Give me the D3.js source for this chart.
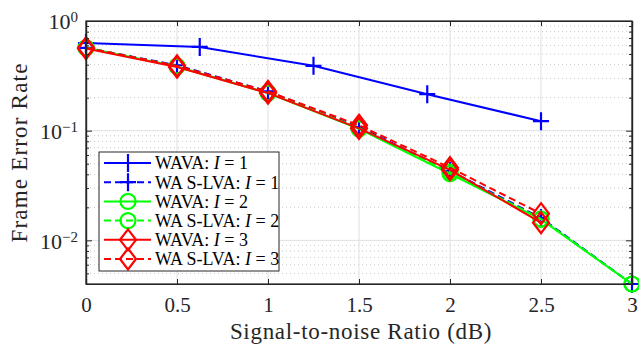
<!DOCTYPE html>
<html>
<head>
<meta charset="utf-8">
<script src="https://cdn.jsdelivr.net/npm/d3@7"></script>
<style>
  body { margin: 0; background: #fff; }
</style>
</head>
<body>
<svg id="chart" width="639" height="347"></svg>
<script>
// data
const snrFull = [0, 0.5, 1, 1.5, 2, 2.5, 3];
const snrShort = [0, 0.5, 1, 1.5, 2, 2.5];
const snrWava1 = [0, 0.625, 1.25, 1.875, 2.5];

const ferWava1 = [0.63, 0.58, 0.39, 0.215, 0.122];
const ferSlva1 = [0.57, 0.395, 0.228, 0.108, 0.043, 0.0160, 0.0040];
const ferWava2 = [0.57, 0.385, 0.220, 0.104, 0.0405, 0.0155, 0.0040];
const ferSlva2 = [0.57, 0.388, 0.223, 0.106, 0.0420, 0.0157, 0.0040];
const ferWava3 = [0.56, 0.380, 0.220, 0.105, 0.0440, 0.0145];
const ferSlva3 = [0.57, 0.390, 0.228, 0.112, 0.0460, 0.0175];

const xTicks = [0, 0.5, 1, 1.5, 2, 2.5, 3];
const yTicks = [1e-2, 1e-1, 1];
const yTickExp = ["\u22122", "\u22121", "0"];

const series = [
  { name: "WAVA: ", idx: "1", x: snrWava1, y: ferWava1, color: "#0000ff", dash: null, marker: "plus" },
  { name: "WA S-LVA: ", idx: "1", x: snrFull, y: ferSlva1, color: "#0000ff", dash: "7,4", marker: "plus" },
  { name: "WAVA: ", idx: "2", x: snrFull, y: ferWava2, color: "#00ff00", dash: null, marker: "circle" },
  { name: "WA S-LVA: ", idx: "2", x: snrFull, y: ferSlva2, color: "#00ff00", dash: "7,4", marker: "circle" },
  { name: "WAVA: ", idx: "3", x: snrShort, y: ferWava3, color: "#ff0000", dash: null, marker: "diamond" },
  { name: "WA S-LVA: ", idx: "3", x: snrShort, y: ferSlva3, color: "#ff0000", dash: "7,4", marker: "diamond" }
];

const FONT = "'Liberation Serif', 'Times New Roman', serif";
const mLeft = 86, mRight = 632, mTop = 21, mBottom = 284;
const svg = d3.select("#chart");

const x = d3.scaleLinear().domain([0, 3]).range([mLeft, mRight]);
const y = d3.scaleLog().domain([0.004, 1]).range([mBottom, mTop]);

// minor y values (2..9 per decade)
const yMinor = [];
[1e-3, 1e-2, 1e-1].forEach(d => {
  for (let k = 2; k <= 9; k++) {
    const v = d * k;
    if (v >= 0.004 && v < 1) yMinor.push(v);
  }
});

// grid
const grid = svg.append("g");
grid.selectAll(".ymin").data(yMinor).enter().append("line")
  .attr("x1", mLeft).attr("x2", mRight)
  .attr("y1", d => y(d)).attr("y2", d => y(d))
  .attr("stroke", "#c8c8c8").attr("stroke-width", 1)
  .attr("stroke-dasharray", "1,3");
grid.selectAll(".xmaj").data(xTicks).enter().append("line")
  .attr("x1", d => x(d)).attr("x2", d => x(d))
  .attr("y1", mTop).attr("y2", mBottom)
  .attr("stroke", "#e0e0e0").attr("stroke-width", 1);
grid.selectAll(".ymaj").data(yTicks).enter().append("line")
  .attr("x1", mLeft).attr("x2", mRight)
  .attr("y1", d => y(d)).attr("y2", d => y(d))
  .attr("stroke", "#e0e0e0").attr("stroke-width", 1);

// markers
function drawMarker(g, type, color) {
  if (type === "plus") {
    g.append("path").attr("d", "M-8,0H8M0,-9V9")
      .attr("stroke", color).attr("stroke-width", 2.2).attr("fill", "none");
  } else if (type === "circle") {
    g.append("circle").attr("r", 7.5)
      .attr("stroke", color).attr("stroke-width", 2.2).attr("fill", "none");
  } else {
    g.append("path").attr("d", "M0,-10.5L8,0L0,10.5L-8,0Z")
      .attr("stroke", color).attr("stroke-width", 2.2).attr("fill", "none");
  }
}

const line = d3.line().x(d => x(d[0])).y(d => y(d[1]));
const plot = svg.append("g");
series.forEach(s => {
  const pts = s.x.map((v, i) => [v, s.y[i]]);
  plot.append("path")
    .attr("d", line(pts))
    .attr("fill", "none")
    .attr("stroke", s.color)
    .attr("stroke-width", 2)
    .attr("stroke-dasharray", s.dash);
  pts.forEach(p => {
    const g = plot.append("g").attr("transform", `translate(${x(p[0])},${y(p[1])})`);
    drawMarker(g, s.marker, s.color);
  });
});

// axes with inward ticks, box
const axisColor = "#262626";
svg.append("g").attr("transform", `translate(0,${mBottom})`)
  .call(d3.axisBottom(x).tickValues(xTicks).tickSize(-5).tickPadding(13).tickFormat(d3.format("")))
  .call(g => g.selectAll("text").attr("font-size", 21).attr("dy", "0.71em"));
svg.append("g").attr("transform", `translate(0,${mTop})`)
  .call(d3.axisTop(x).tickValues(xTicks).tickSize(-5).tickFormat(""));
const yAx = svg.append("g").attr("transform", `translate(${mLeft},0)`)
  .call(d3.axisLeft(y).tickValues(yTicks).tickSize(-6).tickPadding(12).tickFormat(""));
svg.append("g").attr("transform", `translate(${mRight},0)`)
  .call(d3.axisRight(y).tickValues(yTicks).tickSize(-6).tickFormat(""));
// minor ticks
svg.append("g").attr("transform", `translate(${mLeft},0)`)
  .call(d3.axisLeft(y).tickValues(yMinor).tickSize(-3).tickFormat("").tickSizeOuter(0));
svg.append("g").attr("transform", `translate(${mRight},0)`)
  .call(d3.axisRight(y).tickValues(yMinor).tickSize(-3).tickFormat("").tickSizeOuter(0));

svg.selectAll(".domain").attr("stroke", axisColor).attr("stroke-width", 1.2);
svg.selectAll(".tick line").attr("stroke", axisColor);
svg.append("rect").attr("x", mLeft).attr("y", mTop).attr("width", mRight - mLeft).attr("height", mBottom - mTop)
  .attr("fill", "none").attr("stroke", axisColor).attr("stroke-width", 1.2);

// y tick labels 10^k
yAx.selectAll(".tick").each(function(d, i) {
  const t = d3.select(this).append("text")
    .attr("x", -8).attr("y", 0).attr("dy", "0.35em")
    .attr("text-anchor", "end").attr("font-size", 22).attr("fill", axisColor);
  t.append("tspan").text("10");
  t.append("tspan").attr("dy", "-0.45em").attr("font-size", 15).text(yTickExp[i]);
});

// axis labels
svg.append("text").attr("x", (mLeft + mRight) / 2 + 2).attr("y", 339)
  .attr("text-anchor", "middle").attr("font-size", 23).attr("letter-spacing", 0.7)
  .text("Signal-to-noise Ratio (dB)");
svg.append("text").attr("transform", `translate(27,${(mTop + mBottom) / 2}) rotate(-90)`)
  .attr("text-anchor", "middle").attr("font-size", 23).attr("letter-spacing", 1.2)
  .text("Frame Error Rate");

// legend
const lg = svg.append("g").attr("transform", "translate(99,152)");
lg.append("rect").attr("width", 180).attr("height", 119)
  .attr("fill", "#fff").attr("stroke", axisColor).attr("stroke-width", 1);
series.forEach((s, i) => {
  const cy = 11 + i * 19.2;
  lg.append("line").attr("x1", 5).attr("x2", 52).attr("y1", cy).attr("y2", cy)
    .attr("stroke", s.color).attr("stroke-width", 2).attr("stroke-dasharray", s.dash);
  drawMarker(lg.append("g").attr("transform", `translate(29,${cy})`), s.marker, s.color);
  const t = lg.append("text").attr("x", 56).attr("y", cy).attr("dy", "0.35em")
    .attr("font-size", 18).attr("fill", "#000");
  t.append("tspan").text(s.name);
  t.append("tspan").attr("font-style", "italic").text("I");
  t.append("tspan").text(" = " + s.idx);
});

svg.selectAll("text").attr("font-family", FONT).attr("fill", function() {
  return d3.select(this).attr("fill") === "#000" ? "#000" : axisColor;
});
</script>
</body>
</html>
